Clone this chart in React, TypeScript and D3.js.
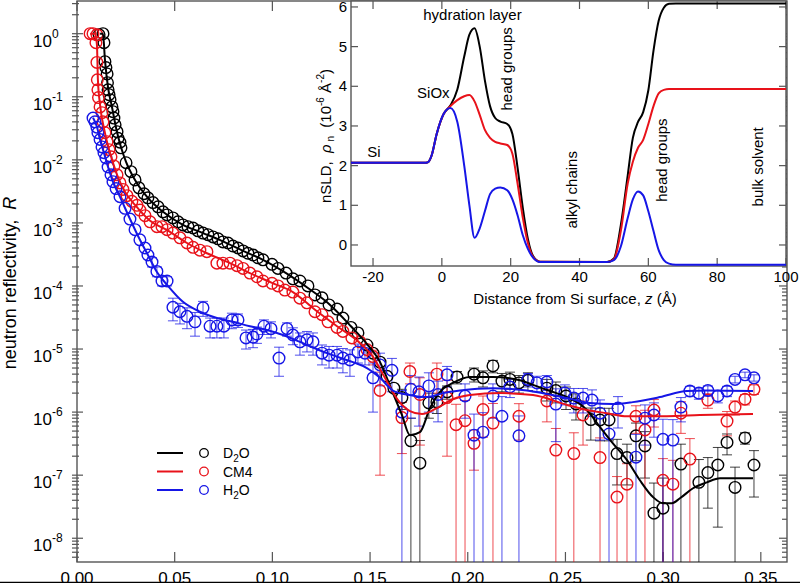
import { useEffect, useRef } from "react";
import * as d3 from "d3";

type Pt = [number, number, number];
type FitPt = [number, number];

// measured reflectivity: [Q (1/Å), R, dR]
const d2oPoints: Pt[] = [
  [0.0113, 0.96, 0], [0.0133, 1.0, 0], [0.0138, 0.72, 0], [0.0143, 0.36, 0], [0.0148, 0.29, 0],
  [0.0154, 0.23, 0], [0.0156, 0.167, 0], [0.0159, 0.129, 0], [0.0164, 0.108, 0], [0.0169, 0.09, 0],
  [0.0179, 0.069, 0], [0.0184, 0.058, 0], [0.0189, 0.046, 0], [0.0195, 0.036, 0], [0.0205, 0.028, 0],
  [0.021, 0.022, 0], [0.022, 0.019, 0], [0.0225, 0.0155, 0], [0.0251, 0.009, 0], [0.0276, 0.0065, 0],
  [0.0297, 0.0048, 0], [0.0317, 0.0036, 0], [0.0343, 0.0029, 0], [0.0363, 0.0025, 0], [0.0389, 0.0021, 0],
  [0.0415, 0.0018, 0], [0.044, 0.0015, 0], [0.0461, 0.00134, 0], [0.0491, 0.0012, 0], [0.0517, 0.00104, 0],
  [0.0542, 0.00093, 0], [0.0568, 0.00087, 0], [0.0594, 0.00083, 0], [0.0619, 0.00075, 0], [0.0645, 0.00069, 0],
  [0.067, 0.00065, 0], [0.0696, 0.0006, 0], [0.0722, 0.00056, 0], [0.0747, 0.0005, 0], [0.0773, 0.00048, 0],
  [0.0798, 0.00043, 0], [0.0824, 0.0004, 0], [0.085, 0.00036, 0], [0.0875, 0.00033, 0], [0.0901, 0.00031, 0],
  [0.0926, 0.00028, 0], [0.0952, 0.00026, 0], [0.0998, 0.00022, 0], [0.1029, 0.00019, 0], [0.107, 0.00016, 0],
  [0.1105, 0.00013, 0], [0.1141, 0.00012, 0], [0.1182, 0.0001, 0], [0.1218, 7.2e-5, 0], [0.1254, 6.5e-5, 0],
  [0.129, 5.0e-5, 0], [0.1331, 4.3e-5, 0], [0.1361, 3.1e-5, 0], [0.1402, 2.2e-5, 0], [0.1438, 1.8e-5, 0],
  [0.1484, 1.16e-5, 0], [0.1515, 8.6e-6, 0], [0.1551, 6.2e-6, 0], [0.1587, 3.7e-6, 0], [0.1622, 2.4e-6, 0],
  [0.1663, 1.7e-6, 6e-7], [0.1709, 3.5e-7, 4.5e-7], [0.1755, 1.55e-7, 2e-7], [0.1801, 1.4e-6, 6e-7],
  [0.1842, 1.45e-6, 5e-7], [0.1894, 2.1e-6, 5e-7], [0.1945, 3.6e-6, 8e-7], [0.2032, 4.0e-6, 1e-6],
  [0.2078, 3.5e-6, 1e-6], [0.2129, 5.4e-6, 1.2e-6], [0.2175, 3.1e-6, 1e-6], [0.2216, 3.3e-6, 1e-6],
  [0.2262, 2.9e-6, 9e-7], [0.2308, 3.2e-6, 1e-6], [0.2405, 2.4e-6, 9e-7], [0.2451, 2.2e-6, 8e-7],
  [0.2503, 1.8e-6, 7e-7], [0.2554, 1.35e-6, 6e-7], [0.263, 7.6e-7, 4e-7], [0.2677, 7.5e-7, 4e-7],
  [0.2723, 7.5e-7, 4e-7], [0.2764, 2.2e-7, 1.5e-7], [0.2815, 1.9e-7, 1.2e-7], [0.2861, 4.2e-7, 2.5e-7],
  [0.2907, 2.9e-7, 2e-7], [0.2953, 2.5e-8, 5e-8], [0.2999, 3.0e-8, 6e-8], [0.3091, 1.5e-7, 1.6e-7],
  [0.3183, 7.7e-8, 1e-7], [0.3229, 1.1e-7, 8e-8], [0.328, 1.45e-7, 1.3e-7], [0.3327, 3.3e-7, 1.2e-7],
  [0.3368, 6.4e-8, 7e-8], [0.3419, 3.9e-7, 8e-8], [0.3465, 1.45e-7, 1e-7],
];

const cm4Points: Pt[] = [
  [0.0067, 1.0, 0], [0.0082, 1.0, 0], [0.0097, 0.72, 0], [0.0102, 0.96, 0], [0.0102, 0.35, 0],
  [0.0104, 0.186, 0], [0.0107, 0.129, 0], [0.011, 0.097, 0], [0.0118, 0.069, 0], [0.0128, 0.056, 0],
  [0.0133, 0.04, 0], [0.0143, 0.027, 0], [0.0154, 0.0194, 0], [0.0164, 0.0145, 0], [0.0174, 0.0112, 0],
  [0.0189, 0.008, 0], [0.0205, 0.0058, 0], [0.022, 0.0043, 0], [0.0235, 0.0034, 0], [0.0256, 0.0027, 0],
  [0.0281, 0.0022, 0], [0.0307, 0.0019, 0], [0.0322, 0.0016, 0], [0.0348, 0.0013, 0], [0.0374, 0.00104, 0],
  [0.0409, 0.00087, 0], [0.0435, 0.00087, 0], [0.0461, 0.00078, 0], [0.0491, 0.00069, 0], [0.0527, 0.00058, 0],
  [0.0563, 0.00048, 0], [0.0594, 0.00041, 0], [0.0629, 0.00037, 0], [0.0665, 0.00035, 0], [0.0716, 0.00023, 0],
  [0.0747, 0.00023, 0], [0.0783, 0.00023, 0], [0.0819, 0.00021, 0], [0.085, 0.00019, 0], [0.0885, 0.00016, 0],
  [0.0921, 0.00014, 0], [0.0952, 0.00012, 0], [0.0998, 0.00011, 0], [0.1029, 0.0001, 0], [0.1064, 8.6e-5, 0],
  [0.1105, 8.0e-5, 0], [0.1141, 6.4e-5, 0], [0.1177, 5.4e-5, 0], [0.1218, 3.9e-5, 0], [0.1254, 3.5e-5, 0],
  [0.1285, 2.7e-5, 0], [0.1331, 2.2e-5, 0], [0.1361, 1.9e-5, 0], [0.1407, 1.5e-5, 0], [0.1448, 1.3e-5, 0],
  [0.1484, 9.8e-6, 0], [0.1515, 7.6e-6, 2e-6], [0.1551, 2.2e-6, 2.1e-6], [0.1663, 8.2e-7, 6e-7],
  [0.1704, 4.4e-6, 1.6e-6], [0.1755, 1.9e-6, 1.6e-6], [0.1842, 4.0e-6, 2e-6], [0.1894, 1.7e-6, 1.5e-6],
  [0.194, 6.3e-7, 7e-7], [0.1986, 7.3e-7, 8e-7], [0.2032, 3.2e-7, 2e-7], [0.2078, 1.1e-6, 7e-7],
  [0.2129, 6.7e-7, 7e-7], [0.2262, 8.6e-7, 5e-7], [0.2405, 1.5e-6, 8e-7], [0.2451, 2.5e-7, 3e-7],
  [0.2543, 2.2e-7, 2.5e-7], [0.259, 9.0e-7, 6e-7], [0.2677, 1.9e-7, 2e-7], [0.2764, 4.5e-8, 5e-8],
  [0.2815, 7.2e-8, 8e-8], [0.2861, 8.6e-7, 4e-7], [0.2907, 5.2e-7, 5.5e-7], [0.2953, 1.08e-6, 5e-7],
  [0.2999, 8.3e-8, 1e-7], [0.305, 7.2e-8, 1e-7], [0.3091, 9.6e-7, 5e-7], [0.3137, 1.8e-7, 2e-7],
  [0.3229, 1.55e-6, 4e-7], [0.3327, 7.2e-7, 3e-7], [0.3368, 1.2e-6, 3e-7], [0.3419, 1.6e-6, 3e-7],
  [0.3465, 2.3e-6, 4e-7],
];

const h2oPoints: Pt[] = [
  [0.0082, 0.046, 0], [0.0092, 0.04, 0], [0.0102, 0.033, 0], [0.0107, 0.027, 0], [0.0118, 0.021, 0],
  [0.0128, 0.016, 0], [0.0138, 0.013, 0], [0.0148, 0.0107, 0], [0.0159, 0.0077, 0], [0.0174, 0.0058, 0],
  [0.0184, 0.0045, 0], [0.02, 0.0035, 0], [0.022, 0.0026, 0], [0.0246, 0.0017, 0], [0.0271, 0.00115, 0],
  [0.0297, 0.00078, 0], [0.0322, 0.00054, 0], [0.0348, 0.0004, 0], [0.0363, 0.00031, 0],
  [0.0384, 0.00024, 4e-5], [0.0409, 0.00017, 3e-5], [0.0435, 0.00012, 2e-5], [0.0461, 0.00012, 2e-5],
  [0.0491, 4.6e-5, 1.8e-5], [0.0527, 3.9e-5, 1.4e-5], [0.0563, 3.3e-5, 1.2e-5], [0.0604, 2.7e-5, 1.1e-5],
  [0.0645, 4.5e-5, 1.2e-5], [0.0681, 2.3e-5, 8e-6], [0.0716, 2.3e-5, 8e-6], [0.0752, 2.3e-5, 8e-6],
  [0.0793, 2.9e-5, 8e-6], [0.0824, 2.9e-5, 7e-6], [0.0865, 1.5e-5, 5e-6], [0.0901, 1.55e-5, 5e-6],
  [0.0921, 1.73e-5, 5e-6], [0.0957, 2.3e-5, 6e-6], [0.0993, 2.1e-5, 6e-6], [0.1034, 7.2e-6, 3.5e-6],
  [0.1075, 2.1e-5, 5e-6], [0.1105, 1.67e-5, 5e-6], [0.1141, 1.3e-5, 5e-6], [0.1177, 1.4e-5, 5e-6],
  [0.1208, 1.3e-5, 5e-6], [0.1254, 8.6e-6, 3e-6], [0.129, 8.0e-6, 3e-6], [0.1331, 8.0e-6, 3e-6],
  [0.1361, 7.2e-6, 3e-6], [0.1397, 6.7e-6, 3e-6], [0.1438, 9.0e-6, 3e-6], [0.1474, 8.6e-6, 3e-6],
  [0.1515, 3.5e-6, 2.5e-6], [0.1551, 5.6e-6, 3e-6], [0.1612, 4.6e-6, 2.5e-6], [0.1663, 1.0e-6, 1.2e-6],
  [0.1709, 2.3e-6, 1.5e-6], [0.175, 2.1e-6, 1.5e-6], [0.1801, 2.6e-6, 1.6e-6], [0.1848, 1.9e-6, 1.2e-6],
  [0.1894, 3.9e-6, 1.4e-6], [0.1986, 1.8e-6, 1e-6], [0.2032, 4.3e-7, 5e-7], [0.2078, 4.8e-7, 5e-7],
  [0.2129, 1.8e-6, 1e-6], [0.2175, 8.6e-7, 9e-7], [0.2216, 2.5e-6, 8e-7], [0.2262, 4.2e-7, 4.5e-7],
  [0.2308, 3.3e-6, 8e-7], [0.2354, 2.9e-6, 8e-7], [0.2405, 3.0e-6, 8e-7], [0.2451, 1.34e-6, 1e-6],
  [0.2497, 2.0e-6, 7e-7], [0.2543, 1.67e-6, 7e-7], [0.259, 1.67e-6, 7e-7], [0.2636, 1.55e-6, 7e-7],
  [0.2677, 9.6e-7, 6e-7], [0.2723, 4.5e-7, 5e-7], [0.2769, 1.16e-6, 6e-7], [0.2861, 1.93e-7, 2.5e-7],
  [0.2907, 8.0e-7, 5e-7], [0.2953, 9.0e-7, 5e-7], [0.2999, 3.7e-7, 4e-7], [0.305, 3.6e-7, 4e-7],
  [0.3091, 1.2e-6, 5e-7], [0.3137, 2.16e-6, 4e-7], [0.3183, 2.0e-6, 4e-7], [0.3229, 2.2e-6, 4e-7],
  [0.328, 1.8e-6, 4e-7], [0.3327, 2.16e-6, 4e-7], [0.3368, 3.3e-6, 4e-7], [0.3419, 3.9e-6, 4e-7],
  [0.3465, 3.5e-6, 4e-7],
];

// model fits: [Q, R]
const d2oFit: FitPt[] = [
  [0.0118, 1.0], [0.0133, 1.0], [0.0143, 0.387], [0.0159, 0.139], [0.0179, 0.069], [0.02, 0.032],
  [0.0225, 0.016], [0.0251, 0.0093], [0.0297, 0.0048], [0.0363, 0.0025], [0.044, 0.0015], [0.0542, 0.00093],
  [0.0645, 0.00069], [0.0747, 0.00051], [0.085, 0.00036], [0.0952, 0.00026], [0.107, 0.00016],
  [0.1182, 9.3e-5], [0.129, 5.2e-5], [0.1402, 2.3e-5], [0.1484, 1.2e-5], [0.1551, 6.2e-6], [0.1617, 2.0e-6],
  [0.1663, 9.0e-7], [0.1704, 4.3e-7], [0.1755, 4.8e-7], [0.1807, 1.16e-6], [0.1858, 2.1e-6],
  [0.1924, 2.9e-6], [0.2011, 3.6e-6], [0.2129, 3.6e-6], [0.2267, 3.2e-6], [0.2334, 2.7e-6],
  [0.2421, 2.16e-6], [0.2508, 1.73e-6], [0.261, 1.08e-6], [0.2677, 5.8e-7], [0.2743, 3.2e-7],
  [0.2815, 1.73e-7], [0.2881, 8.3e-8], [0.2948, 4.5e-8], [0.2999, 3.6e-8], [0.3045, 3.6e-8],
  [0.3086, 4.3e-8], [0.3153, 6.2e-8], [0.3224, 7.7e-8], [0.3291, 8.9e-8], [0.346, 8.9e-8],
];

const cm4Fit: FitPt[] = [
  [0.0067, 1.0], [0.0092, 1.0], [0.0102, 0.67], [0.0107, 0.186], [0.0118, 0.0746], [0.0143, 0.0268],
  [0.0169, 0.0129], [0.0205, 0.0058], [0.0246, 0.0031], [0.0297, 0.00193], [0.0374, 0.00108],
  [0.0461, 0.00077], [0.0563, 0.00048], [0.0665, 0.00033], [0.0783, 0.00023], [0.0885, 0.00016],
  [0.0998, 0.000112], [0.1105, 8.0e-5], [0.1218, 4.2e-5], [0.1331, 2.3e-5], [0.1448, 1.25e-5],
  [0.1515, 7.5e-6], [0.1576, 3.5e-6], [0.1643, 1.55e-6], [0.1704, 1.04e-6], [0.1766, 9.3e-7],
  [0.1842, 1.16e-6], [0.1924, 1.6e-6], [0.2011, 1.86e-6], [0.2165, 2.0e-6], [0.2334, 1.86e-6],
  [0.2508, 1.3e-6], [0.261, 1.08e-6], [0.2712, 9.6e-7], [0.2815, 8.6e-7], [0.3019, 8.6e-7],
  [0.3188, 8.96e-7], [0.346, 9.3e-7],
];

const h2oFit: FitPt[] = [
  [0.0082, 0.0464], [0.0102, 0.0334], [0.0118, 0.0208], [0.0138, 0.0129], [0.0159, 0.0077],
  [0.0184, 0.00448], [0.022, 0.00259], [0.0271, 0.00116], [0.0322, 0.00054], [0.0363, 0.00031],
  [0.0409, 0.000167], [0.0461, 0.000104], [0.0542, 5.6e-5], [0.0629, 3.9e-5], [0.0716, 3.1e-5],
  [0.0798, 2.7e-5], [0.0885, 2.3e-5], [0.0972, 2.0e-5], [0.1054, 1.67e-5], [0.1141, 1.3e-5],
  [0.1279, 8.6e-6], [0.1412, 6.2e-6], [0.1484, 5.0e-6], [0.1551, 3.5e-6], [0.1617, 2.2e-6],
  [0.1704, 1.86e-6], [0.1791, 1.73e-6], [0.1873, 2.0e-6], [0.196, 2.2e-6], [0.2129, 2.4e-6],
  [0.2303, 2.2e-6], [0.2508, 1.67e-6], [0.2625, 1.39e-6], [0.2743, 1.34e-6], [0.2845, 1.44e-6],
  [0.2984, 1.73e-6], [0.3122, 2.16e-6], [0.3224, 2.2e-6], [0.346, 2.16e-6],
];

// inset: scattering length density profiles
const profileZ = [-26.4, -5, -4, -3, -1.5, 0.5, 2.5, 4.5, 6.5, 8, 9.5, 11, 12.5, 14, 15.5, 17, 19, 20.5, 22, 23.5, 25, 26.5, 28.5, 48, 50, 52, 54, 55.5, 57, 58.5, 60, 61.5, 63, 64.5, 66, 68, 100];
const rhoD2O = [2.07, 2.07, 2.09, 2.25, 2.8, 3.3, 3.52, 3.92, 4.75, 5.3, 5.46, 5.0, 4.15, 3.5, 3.2, 3.11, 3.05, 2.8, 1.95, 0.95, 0.15, -0.28, -0.42, -0.43, -0.34, 0.5, 1.75, 2.7, 3.1, 3.35, 3.9, 4.9, 5.65, 5.98, 6.08, 6.09, 6.09];
const rhoCM4 = [2.07, 2.07, 2.09, 2.25, 2.8, 3.3, 3.5, 3.65, 3.75, 3.78, 3.62, 3.28, 2.9, 2.7, 2.6, 2.56, 2.52, 2.3, 1.55, 0.7, 0.05, -0.3, -0.42, -0.43, -0.36, 0.35, 1.55, 2.1, 2.45, 2.65, 3.05, 3.5, 3.82, 3.91, 3.93, 3.93, 3.93];
const rhoH2O = [2.07, 2.07, 2.09, 2.25, 2.8, 3.3, 3.45, 3.1, 2.0, 1.0, 0.18, 0.42, 0.85, 1.28, 1.42, 1.45, 1.38, 1.15, 0.75, 0.25, -0.1, -0.32, -0.43, -0.43, -0.38, -0.04, 0.68, 1.15, 1.35, 1.25, 0.85, 0.35, -0.13, -0.38, -0.47, -0.5, -0.5];

const qTicks = [0, 0.05, 0.1, 0.15, 0.2, 0.25, 0.3, 0.35];
const decades = [0, -1, -2, -3, -4, -5, -6, -7, -8];
const zTicks = [-20, 0, 20, 40, 60, 80, 100];
const rhoTicks = [0, 1, 2, 3, 4, 5, 6];

const colors = ["#000000", "#e8121a", "#1616e6"];
const FONT = "'Liberation Sans', Arial, Helvetica, sans-serif";

export default function App() {
  const ref = useRef<SVGSVGElement>(null);

  useEffect(() => {
    const svg = d3.select(ref.current);
    svg.selectAll("*").remove();
    svg.attr("font-family", FONT);

    const L = 77, R = 787, T = 1, B = 562;
    const x = d3.scaleLinear().domain([0, 0.3634]).range([L, R]);
    const y = d3.scaleLog().domain([4.2e-9, 3.3]).range([B, T]);
    const yMin = y.domain()[0];
    const axisCol = "#555";

    svg.append("defs").append("clipPath").attr("id", "mainclip")
      .append("rect").attr("x", L).attr("y", T).attr("width", R - L).attr("height", B - T);

    // frame
    svg.append("rect").attr("x", L).attr("y", T).attr("width", R - L).attr("height", B - T)
      .attr("fill", "none").attr("stroke", axisCol).attr("stroke-width", 1.4);

    const ax = svg.append("g").attr("stroke", axisCol).attr("stroke-width", 1.2);
    qTicks.forEach((q) => {
      ax.append("line").attr("x1", x(q)).attr("x2", x(q)).attr("y1", B).attr("y2", B - 10);
      ax.append("line").attr("x1", x(q)).attr("x2", x(q)).attr("y1", T).attr("y2", T + 10);
    });
    for (let k = -9; k <= 0; k++) {
      for (let m = 1; m <= 9; m++) {
        const v = m * Math.pow(10, k);
        if (v < yMin || v > 3.3) continue;
        const major = m === 1;
        ax.append("line").attr("x1", L - 5).attr("x2", L + (major ? 6 : 2)).attr("y1", y(v)).attr("y2", y(v));
        ax.append("line").attr("x1", R - (major ? 8 : 5)).attr("x2", R).attr("y1", y(v)).attr("y2", y(v));
      }
    }

    // tick labels
    svg.append("g").selectAll("text").data(qTicks).join("text")
      .attr("x", (d) => x(d)).attr("y", 584).attr("text-anchor", "middle")
      .attr("font-size", 17).text((d) => d.toFixed(2));
    const yl = svg.append("g").selectAll("text").data(decades).join("text")
      .attr("x", 33).attr("y", (d) => y(Math.pow(10, d)) + 13).attr("font-size", 17);
    yl.append("tspan").text("10");
    yl.append("tspan").attr("dy", -9).attr("font-size", 12).text((d) => (d === 0 ? "0" : "-" + Math.abs(d)));

    // axis title
    const yt = svg.append("text").attr("transform", "translate(16,283) rotate(-90)")
      .attr("text-anchor", "middle").attr("font-size", 18);
    yt.append("tspan").text("neutron reflectivity,\u00a0\u00a0");
    yt.append("tspan").attr("font-style", "italic").text("R");

    // data
    const plot = svg.append("g").attr("clip-path", "url(#mainclip)");
    const sets = [
      { pts: d2oPoints, fit: d2oFit, color: colors[0] },
      { pts: cm4Points, fit: cm4Fit, color: colors[1] },
      { pts: h2oPoints, fit: h2oFit, color: colors[2] },
    ];

    sets.forEach((s) => {
      const g = plot.append("g").attr("stroke", s.color).attr("stroke-width", 1).attr("stroke-opacity", 0.75);
      s.pts.filter((p) => p[2] > 0).forEach(([q, r, e]) => {
        const xp = x(q);
        const top = y(r + e);
        const lowV = r - e;
        const bot = lowV > yMin ? y(lowV) : B + 2;
        g.append("line").attr("x1", xp).attr("x2", xp).attr("y1", top).attr("y2", bot);
        g.append("line").attr("x1", xp - 5).attr("x2", xp + 5).attr("y1", top).attr("y2", top);
        if (lowV > yMin) g.append("line").attr("x1", xp - 5).attr("x2", xp + 5).attr("y1", bot).attr("y2", bot);
      });
    });

    sets.forEach((s) => {
      plot.append("g").selectAll("circle").data(s.pts).join("circle")
        .attr("cx", (d) => x(d[0])).attr("cy", (d) => y(d[1])).attr("r", 5.8)
        .attr("fill", "none").attr("stroke", s.color).attr("stroke-width", 1.4);
    });

    const fitLine = d3.line<FitPt>().x((d) => x(d[0])).y((d) => y(d[1])).curve(d3.curveMonotoneX);
    sets.forEach((s) => {
      plot.append("path").attr("d", fitLine(s.fit)).attr("fill", "none")
        .attr("stroke", s.color).attr("stroke-width", 2);
    });

    // legend
    const legendNames = [["D", "2", "O"], ["CM4", "", ""], ["H", "2", "O"]];
    legendNames.forEach((nm, i) => {
      const ly = 453 + i * 18.5;
      svg.append("line").attr("x1", 157).attr("x2", 183).attr("y1", ly).attr("y2", ly)
        .attr("stroke", colors[i]).attr("stroke-width", 2);
      svg.append("circle").attr("cx", 204).attr("cy", ly).attr("r", 4.3)
        .attr("fill", "none").attr("stroke", colors[i]).attr("stroke-width", 1.3);
      const t = svg.append("text").attr("x", 223).attr("y", ly + 5).attr("font-size", 14);
      t.append("tspan").text(nm[0]);
      if (nm[1]) {
        t.append("tspan").attr("dy", 4).attr("font-size", 10).text(nm[1]);
        t.append("tspan").attr("dy", -4).text(nm[2]);
      }
    });

    // inset
    const iL = 351, iR = 786, iT = 1, iB = 266;
    const xi = d3.scaleLinear().domain([-26.4, 100]).range([iL, iR]);
    const yi = d3.scaleLinear().domain([-0.53, 6.15]).range([iB, iT]);
    const inset = svg.append("g");
    inset.append("rect").attr("x", iL).attr("y", iT).attr("width", iR - iL).attr("height", iB - iT)
      .attr("fill", "#fff").attr("stroke", axisCol).attr("stroke-width", 1.4);
    const iax = inset.append("g").attr("stroke", axisCol).attr("stroke-width", 1.2);
    zTicks.forEach((z) => {
      iax.append("line").attr("x1", xi(z)).attr("x2", xi(z)).attr("y1", iB).attr("y2", iB - 8);
      iax.append("line").attr("x1", xi(z)).attr("x2", xi(z)).attr("y1", iT).attr("y2", iT + 8);
    });
    rhoTicks.forEach((r) => {
      iax.append("line").attr("x1", iL).attr("x2", iL + 7).attr("y1", yi(r)).attr("y2", yi(r));
      iax.append("line").attr("x1", iR - 7).attr("x2", iR).attr("y1", yi(r)).attr("y2", yi(r));
    });
    inset.append("g").selectAll("text").data(zTicks).join("text")
      .attr("x", (d) => xi(d)).attr("y", iB + 16).attr("text-anchor", "middle")
      .attr("font-size", 15).text((d) => String(d));
    inset.append("g").selectAll("text").data(rhoTicks).join("text")
      .attr("x", 347).attr("y", (d) => yi(d) + 5).attr("text-anchor", "end")
      .attr("font-size", 15).text((d) => String(d));

    const xt = inset.append("text").attr("x", 575).attr("y", 304).attr("text-anchor", "middle").attr("font-size", 15);
    xt.append("tspan").text("Distance from Si surface, ");
    xt.append("tspan").attr("font-style", "italic").text("z");
    xt.append("tspan").text(" (\u00c5)");

    const ytl = inset.append("text").attr("transform", "translate(331,136) rotate(-90)")
      .attr("text-anchor", "middle").attr("font-size", 15);
    ytl.append("tspan").text("nSLD,\u00a0\u00a0");
    ytl.append("tspan").attr("font-style", "italic").text("\u03c1");
    ytl.append("tspan").attr("dy", 3).attr("font-size", 10).text("\u00a0n");
    ytl.append("tspan").attr("dy", -3).text("\u00a0\u00a0(10");
    ytl.append("tspan").attr("dy", -7).attr("font-size", 10).text("-6");
    ytl.append("tspan").attr("dy", 7).text(" \u00c5");
    ytl.append("tspan").attr("dy", -7).attr("font-size", 10).text("-2");
    ytl.append("tspan").attr("dy", 7).text(")");

    const profLine = d3.line<number>().x((_, i) => xi(profileZ[i])).y((d) => yi(d)).curve(d3.curveMonotoneX);
    [rhoD2O, rhoCM4, rhoH2O].forEach((prof, i) => {
      inset.append("path").attr("d", profLine(prof)).attr("fill", "none")
        .attr("stroke", colors[i]).attr("stroke-width", 2);
    });

    const notes: [string, number, number, boolean][] = [
      ["hydration layer", -5.4, 5.67, false],
      ["SiOx", -7.2, 3.7, false],
      ["Si", -21.7, 2.22, false],
      ["head groups", 18.7, 4.44, true],
      ["alkyl chains", 37.6, 1.39, true],
      ["head groups", 63.9, 2.14, true],
      ["bulk solvent", 91.8, 1.97, true],
    ];
    notes.forEach(([txt, z, r, rot]) => {
      const t = inset.append("text").attr("font-size", 15).text(txt);
      if (rot) {
        t.attr("transform", `translate(${xi(z)},${yi(r)}) rotate(-90)`)
          .attr("text-anchor", "middle").attr("dominant-baseline", "central");
      } else {
        t.attr("x", xi(z)).attr("y", yi(r));
      }
    });

    // bottom rule
    svg.append("line").attr("x1", 0).attr("x2", 800).attr("y1", 582.5).attr("y2", 582.5)
      .attr("stroke", "#000").attr("stroke-width", 1.5);
  }, []);

  return (
    <svg
      ref={ref}
      width={800}
      height={583}
      style={{ position: "absolute", left: 0, top: 0, background: "#fff" }}
    />
  );
}
